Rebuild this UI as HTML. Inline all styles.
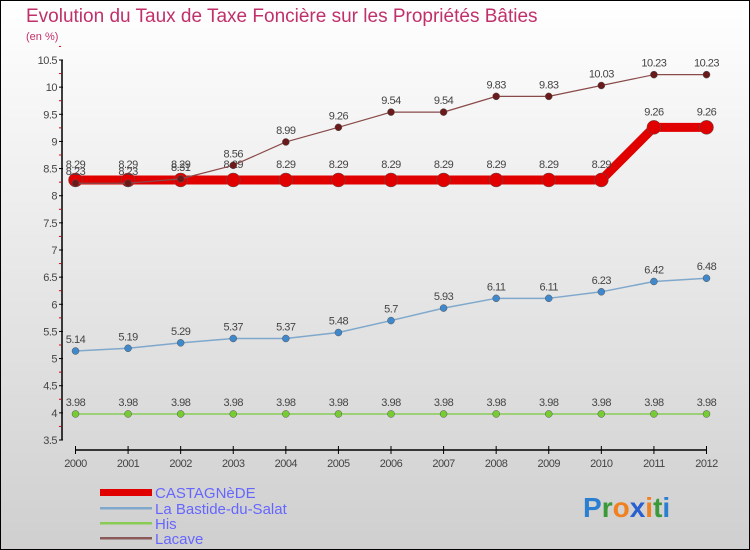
<!DOCTYPE html>
<html><head><meta charset="utf-8"><style>
body{margin:0}
#c{position:relative;width:750px;height:550px;overflow:hidden}
svg text{font-family:"Liberation Sans",sans-serif}
</style></head><body>
<div id="c">
<svg id="s" width="750" height="550" xmlns="http://www.w3.org/2000/svg">
<defs><linearGradient id="bg" x1="0" y1="0" x2="0" y2="1"><stop offset="0" stop-color="#ffffff"/><stop offset="1" stop-color="#cfcfcf"/></linearGradient></defs>
<rect x="0.5" y="0.5" width="749" height="549" fill="url(#bg)" stroke="#000"/>
<text x="26" y="22" font-size="19" fill="#c0306a">Evolution du Taux de Taxe Foncière sur les Propriétés Bâties</text>
<text x="26" y="40" font-size="11" fill="#c0306a">(en %)</text>
<g id="axes"></g><g id="series"></g>
<g>
<rect x="100" y="489" width="52" height="7" fill="#e00000"/>
<text x="155" y="498" font-size="15" fill="#6666ff">CASTAGNèDE</text>
<rect x="100" y="507" width="52" height="2.5" fill="#7fa8cc"/>
<text x="155" y="514" font-size="15" fill="#6666ff">La Bastide-du-Salat</text>
<rect x="100" y="522" width="52" height="2.5" fill="#88cc55"/>
<text x="155" y="529" font-size="15" fill="#6666ff">His</text>
<rect x="100" y="537" width="52" height="2.5" fill="#8a5a5a"/>
<text x="155" y="544" font-size="15" fill="#6666ff">Lacave</text>
</g>
<g font-size="28" font-weight="bold">
<text x="583" y="517"><tspan fill="#2a7fd0">P</tspan><tspan fill="#3a9a3a">r</tspan><tspan fill="#f08020">o</tspan><tspan fill="#2a5fd0">x</tspan><tspan fill="#f08020">i</tspan><tspan fill="#3a9a3a">t</tspan><tspan fill="#2a7fd0">i</tspan></text>
</g>
</svg></div>
<script>
const years=["2000","2001","2002","2003","2004","2005","2006","2007","2008","2009","2010","2011","2012"];
const castagnede=[8.29,8.29,8.29,8.29,8.29,8.29,8.29,8.29,8.29,8.29,8.29,9.26,9.26];
const bastide=[5.14,5.19,5.29,5.37,5.37,5.48,5.7,5.93,6.11,6.11,6.23,6.42,6.48];
const his=[3.98,3.98,3.98,3.98,3.98,3.98,3.98,3.98,3.98,3.98,3.98,3.98,3.98];
const lacave=[8.23,8.23,8.31,8.56,8.99,9.26,9.54,9.54,9.83,9.83,10.03,10.23,10.23];
const yTicks=["3.5","4","4.5","5","5.5","6","6.5","7","7.5","8","8.5","9","9.5","10","10.5"];
const NS="http://www.w3.org/2000/svg";
const x=i=>75.5+i*(706.5-75.5)/(years.length-1);
const y=v=>440-(v-3.5)*(380/7);
function mk(t,a,p){const e=document.createElementNS(NS,t);for(const k in a)e.setAttribute(k,a[k]);p.appendChild(e);return e;}
const ax=document.getElementById('axes');
const yl=mk('line',{x1:62,y1:60,x2:62,y2:440,stroke:'#000','stroke-width':1.5},ax);


yTicks.forEach(t=>{const v=parseFloat(t),yy=y(v);
mk('line',{x1:59,y1:yy,x2:63,y2:yy,stroke:'#000'},ax);
mk('line',{x1:59,y1:y(v+0.25),x2:61,y2:y(v+0.25),stroke:'#e00'},ax);
const tx=mk('text',{x:57,y:yy+4,'font-size':11,fill:'#444','text-anchor':'end','letter-spacing':'-0.5'},ax);tx.textContent=t;

});
const xl=mk('line',{x1:75,y1:450,x2:707,y2:450,stroke:'#000','stroke-width':1.5},ax);


years.forEach((yr,i)=>{mk('line',{x1:x(i),y1:446,x2:x(i),y2:454,stroke:'#000'},ax);
const tx=mk('text',{x:x(i),y:467,'font-size':11,fill:'#444','text-anchor':'middle','letter-spacing':'-0.5'},ax);tx.textContent=yr;

});
const sg=document.getElementById('series');
function series(name,data,color,w,r,dot,lab){
const g=mk('g',{},sg);


mk('polyline',{points:data.map((v,i)=>x(i)+','+y(v)).join(' '),fill:'none',stroke:color,'stroke-width':w,'stroke-linejoin':'round'},g);
data.forEach((v,i)=>{const c=mk('circle',{cx:x(i),cy:y(v),r:r,fill:dot,stroke:'#555','stroke-width':0.5},g);


const t=mk('text',{x:x(i),y:y(v)-8+lab,'font-size':11,fill:'#444','text-anchor':'middle','letter-spacing':'-0.5'},g);t.textContent=v;

});}
series('his',his,'#88cc55',1.5,3.5,'#77cc33',0);
series('bastide',bastide,'#7fa8cc',1.5,3.5,'#3f88cc',0);
series('castagnede',castagnede,'#e00000',9,7,'#e00000',-4);
series('lacave',lacave,'#8a4a4a',1.2,3.5,'#6a1a1a',0);
</script>
</body></html>
